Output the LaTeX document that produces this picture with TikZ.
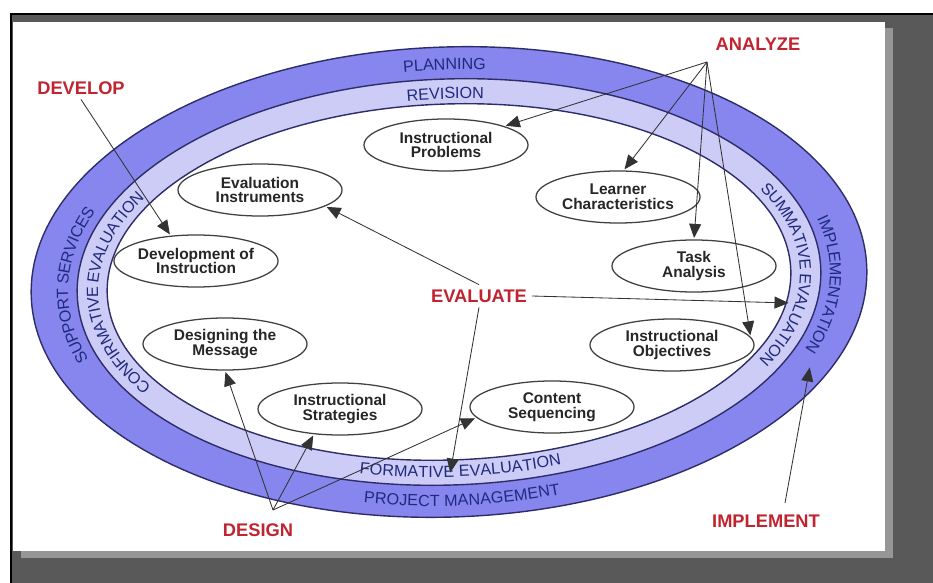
\documentclass[tikz,border=0pt]{standalone}
\usepackage{fontspec}
\setmainfont{Liberation Sans}
\usetikzlibrary{arrows.meta,shapes.geometric,decorations.text}

\definecolor{framegray}{RGB}{89,89,89}
\definecolor{shadowgray}{RGB}{150,150,150}
\definecolor{bandouter}{RGB}{134,134,238}
\definecolor{bandinner}{RGB}{204,204,247}
\definecolor{bandline}{RGB}{45,45,105}
\definecolor{bandword}{RGB}{32,42,125}
\definecolor{cuered}{RGB}{192,36,48}

\newcommand\bandfont{\fontsize{11.5}{12}\selectfont\color{bandword}}

\tikzset{
    stage/.style={ellipse, draw=black!75, line width=0.9pt, fill=white,
        minimum width=4.1cm, minimum height=1.3cm, inner sep=0pt, align=center,
        text=black!85, font=\fontsize{11}{10.5}\selectfont\bfseries},
    cue/.style={text=cuered, font=\fontsize{13}{15}\selectfont\bfseries},
    pointer/.style={draw=black!80, line width=0.6pt, -{Triangle[length=10pt,width=8.5pt]}, shorten >=1pt},
    bandtext/.style={decorate, decoration={text along path, text align=center, raise=-4.2pt}},
}

\begin{document}
\begin{tikzpicture}[x=0.025cm, y=-0.025cm]
    \useasboundingbox (0,0) rectangle (933,583);
    \fill[framegray] (11,14) rectangle (933,583);
    \draw[black, line width=1.4pt] (11,583) -- (11,14) -- (933,14);
    \fill[shadowgray] (21,28) rectangle (893,558);
    \fill[white] (13,22) rectangle (885,551);

    \begin{scope}[shift={(449,282)}, rotate=2]
        \filldraw[fill=bandouter, draw=bandline, line width=1pt] (0,0) ellipse [x radius=418, y radius=235];
        \filldraw[fill=bandinner, draw=bandline, line width=1pt] (0,0) ellipse [x radius=372, y radius=203];
        \filldraw[fill=white, draw=bandline, line width=1pt] (0,0) ellipse [x radius=342, y radius=178];

        \path[bandtext, decoration={text={|\bandfont|PLANNING}}]
            (240.5:387 and 218) arc[start angle=240.5, end angle=300.5, x radius=387, y radius=218];
        \path[bandtext, decoration={text={|\bandfont|REVISION}}]
            (240.5:357 and 189) arc[start angle=240.5, end angle=300.5, x radius=357, y radius=189];
        \path[bandtext, decoration={text={|\bandfont|SUPPORT SERVICES}}]
            (137:387 and 218) arc[start angle=137, end angle=227, x radius=387, y radius=218];
        \path[bandtext, decoration={text={|\bandfont|CONFIRMATIVE EVALUATION}}]
            (130:357 and 189) arc[start angle=130, end angle=230, x radius=357, y radius=189];
        \path[bandtext, decoration={text={|\bandfont|IMPLEMENTATION}}]
            (-47:387 and 218) arc[start angle=-47, end angle=53, x radius=387, y radius=218];
        \path[bandtext, decoration={text={|\bandfont|SUMMATIVE EVALUATION}}]
            (-49:357 and 189) arc[start angle=-49, end angle=51, x radius=357, y radius=189];
        \path[bandtext, decoration={text={|\bandfont|FORMATIVE EVALUATION}}]
            (134:357 and 189) arc[start angle=134, end angle=44, x radius=357, y radius=189];
        \path[bandtext, decoration={text={|\bandfont|PROJECT MANAGEMENT}}]
            (134:387 and 218) arc[start angle=134, end angle=44, x radius=387, y radius=218];
    \end{scope}

    \node[stage] (iprob) at (446,145) {Instructional\\Problems};
    \node[stage] (evalinst) at (260,190) {Evaluation\\Instruments};
    \node[stage] (learner) at (618,197) {Learner\\Characteristics};
    \node[stage] (devinst) at (196,261) {Development of\\Instruction};
    \node[stage] (task) at (694,266) {Task\\Analysis};
    \node[stage] (desmsg) at (225,344) {Designing the\\Message};
    \node[stage] (iobj) at (672,345) {Instructional\\Objectives};
    \node[stage] (istrat) at (340,409) {Instructional\\Strategies};
    \node[stage] (content) at (552,407) {Content\\Sequencing};

    \node[cue] (analyze) at (758,44) {ANALYZE};
    \node[cue] (develop) at (81,88) {DEVELOP};
    \node[cue] (evaluate) at (479,296) {EVALUATE};
    \node[cue] (design) at (258,530) {DESIGN};
    \node[cue] (implement) at (766,521) {IMPLEMENT};

    \coordinate (analyze-fork) at (707,62);
    \coordinate (design-fork) at (273,510);
    \coordinate (implement-foot) at (785,503);
    \coordinate (summative-tip) at (790,303);
    \coordinate (formative-tip) at (450,474);
    \coordinate (implement-tip) at (810,366);

    \draw[pointer] (analyze-fork) -- (iprob.north east);
    \draw[pointer] (analyze-fork) -- (learner.78);
    \draw[pointer] (analyze-fork) -- (task.north);
    \draw[pointer] (analyze-fork) -- (iobj.6);
    \draw[pointer] (develop.south) -- (devinst.135);
    \draw[pointer] (evaluate.north) -- (evalinst.346);
    \draw[pointer] (evaluate.east) -- (summative-tip);
    \draw[pointer] (evaluate.south) -- (formative-tip);
    \draw[pointer] (design-fork) -- (desmsg.south);
    \draw[pointer] (design-fork) -- (istrat.224);
    \draw[pointer] (design-fork) -- (content.188);
    \draw[pointer] (implement-foot) -- (implement-tip);
\end{tikzpicture}
\end{document}
